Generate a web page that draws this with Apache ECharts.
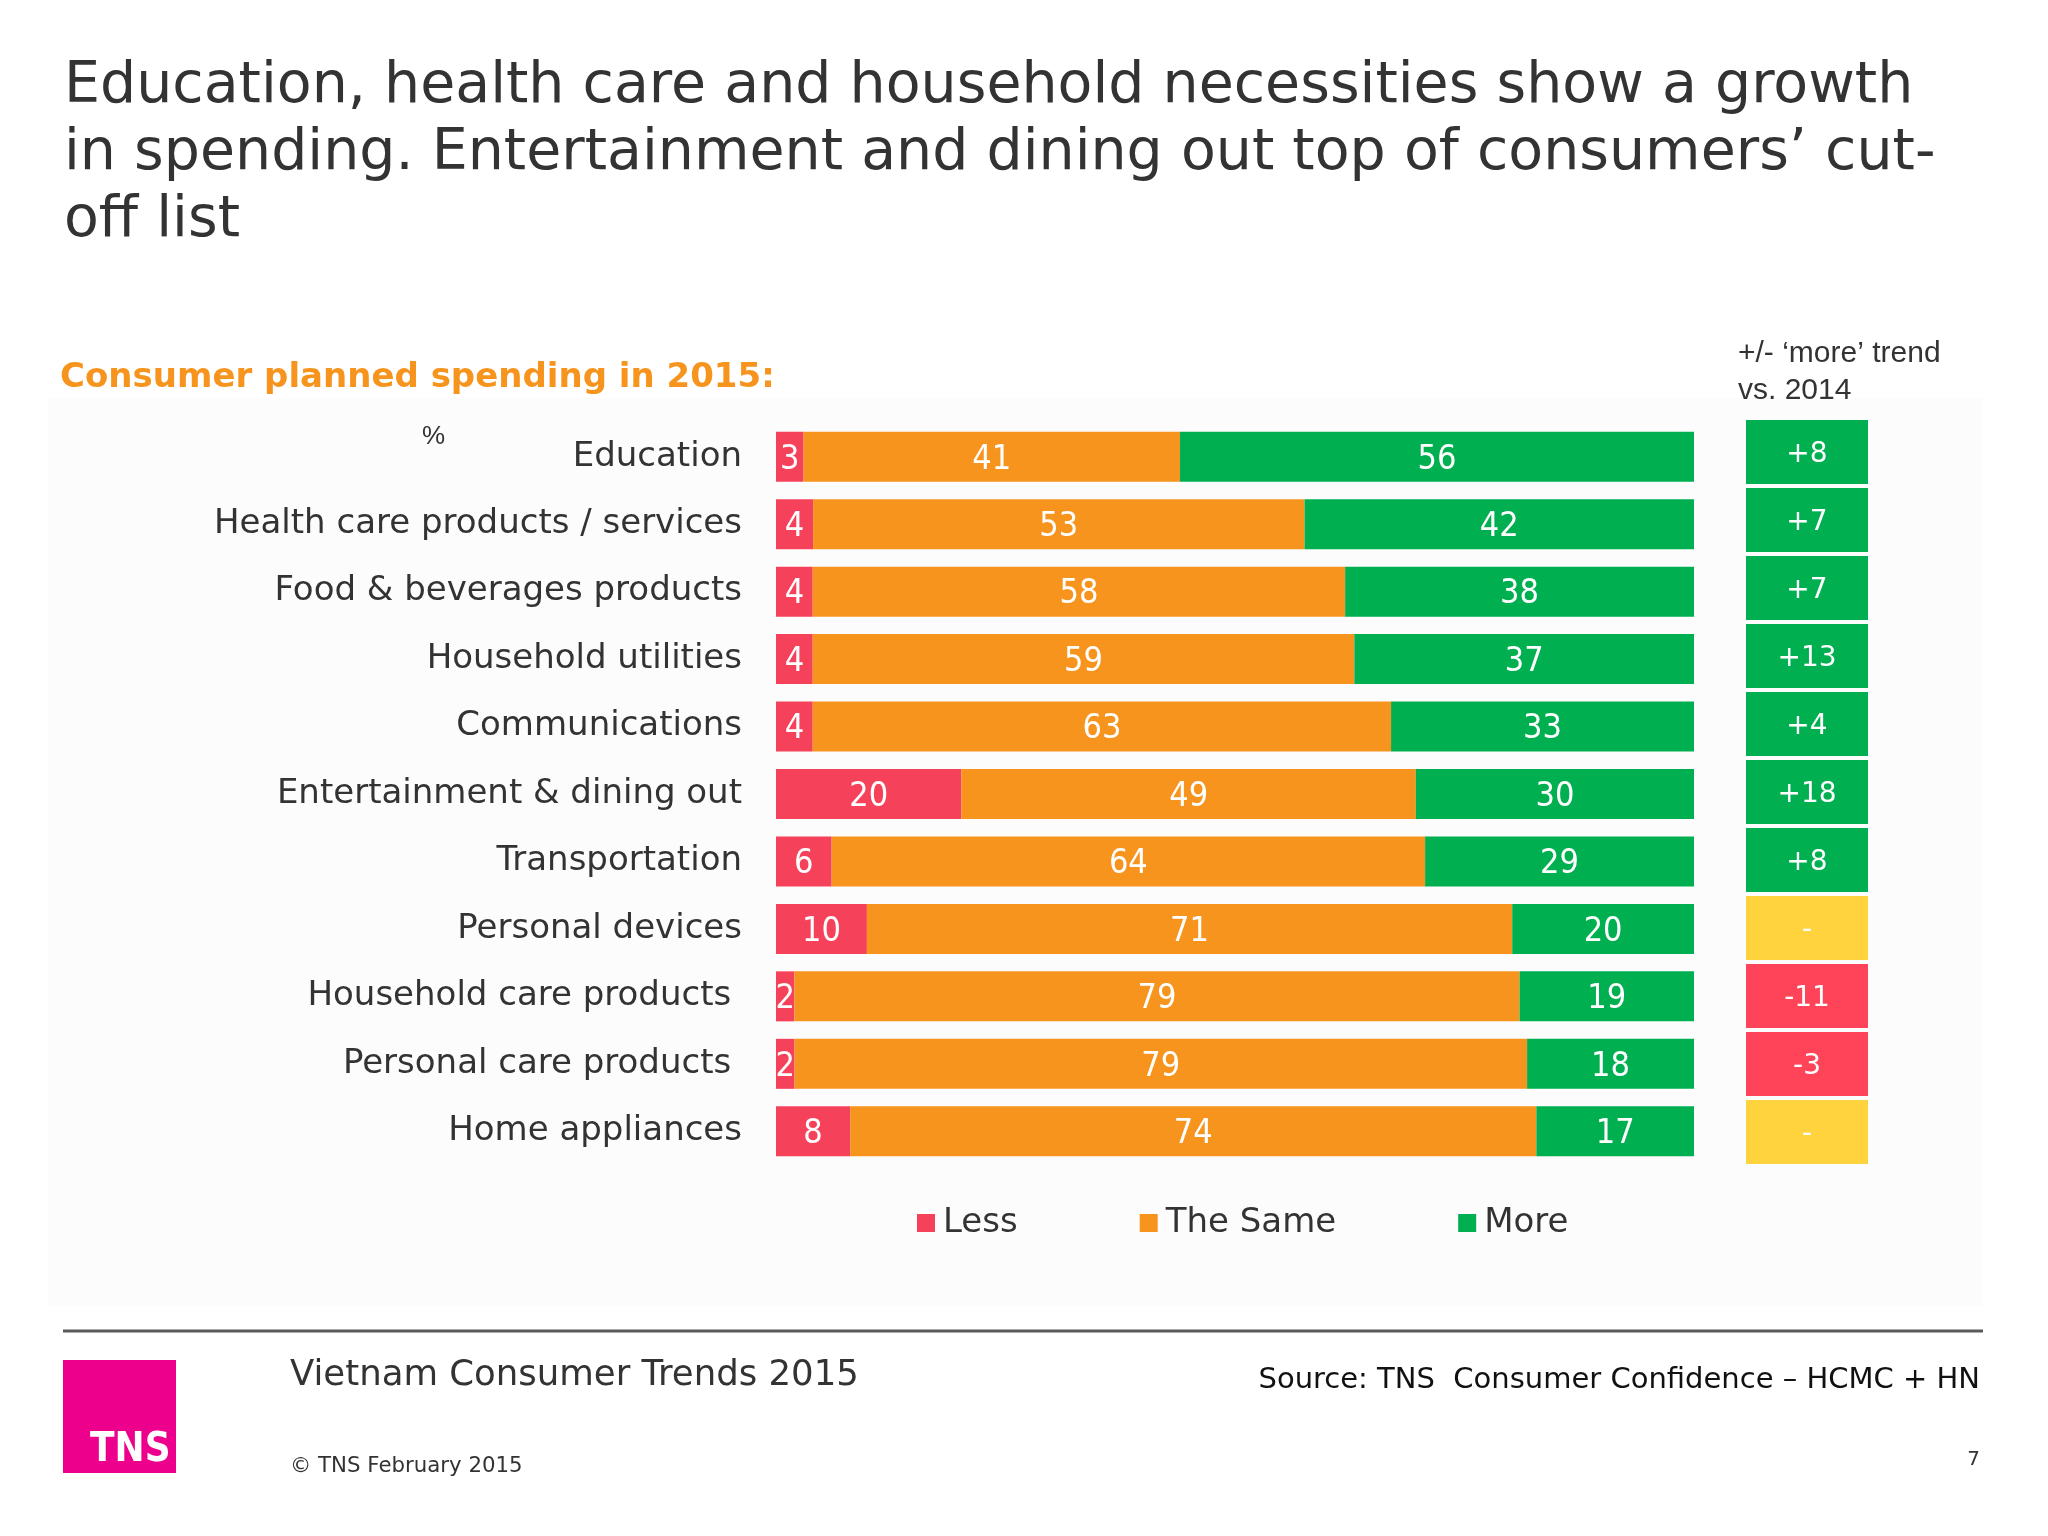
<!DOCTYPE html>
<html>
<head>
<meta charset="utf-8">
<script src="https://cdn.jsdelivr.net/npm/echarts@6/dist/echarts.min.js"></script>
<style>
html,body{margin:0;padding:0;background:#ffffff;}
#chart{width:2048px;height:1536px;}
</style>
</head>
<body>
<div id="chart"></div>
<script>
const categories = [
  'Education',
  'Health care products / services',
  'Food & beverages products',
  'Household utilities',
  'Communications',
  'Entertainment & dining out',
  'Transportation',
  'Personal devices',
  'Household care products ',
  'Personal care products ',
  'Home appliances'
];
const lessVals = [3, 4, 4, 4, 4, 20, 6, 10, 2, 2, 8];
const sameVals = [41, 53, 58, 59, 63, 49, 64, 71, 79, 79, 74];
const moreVals = [56, 42, 38, 37, 33, 30, 29, 20, 19, 18, 17];
const trendVals = [8, 7, 7, 13, 4, 18, 8, null, -11, -3, null];
const seriesNames = ['Less', 'The Same', 'More'];

const FONT = "'DejaVu Sans', sans-serif";
const FONT_C = "'DejaVu Sans Condensed', 'DejaVu Sans', sans-serif";
const colors = { less: '#F6415A', same: '#F7941D', more: '#00AF50', yellow: '#FFD33D', trendRed: '#FF4358' };

const totals = categories.map((c, i) => lessVals[i] + sameVals[i] + moreVals[i]);
const norm = arr => arr.map((v, i) => v / totals[i] * 100);
const raw = [lessVals, sameVals, moreVals];

function mkSeries(idx, color) {
  return {
    name: seriesNames[idx],
    type: 'bar',
    stack: 'total',
    xAxisIndex: 0, yAxisIndex: 0,
    barWidth: 50,
    data: norm(raw[idx]),
    itemStyle: { color: color },
    label: {
      show: true,
      position: 'inside',
      color: '#ffffff',
      fontFamily: FONT_C,
      fontSize: 34,
      offset: [0, 3],
      formatter: p => String(raw[idx][p.dataIndex])
    },
    emphasis: { disabled: true }
  };
}

const chart = echarts.init(document.getElementById('chart'), null, { renderer: 'canvas' });
chart.setOption({
  backgroundColor: '#ffffff',
  animation: false,
  title: [
    {
      text: 'Education, health care and household necessities show a growth\nin spending. Entertainment and dining out top of consumers\u2019 cut-\noff list',
      left: 64, top: 54, padding: 0,
      textStyle: { fontFamily: FONT, fontSize: 57, fontWeight: 'normal', color: '#333333', lineHeight: 67 }
    },
    {
      text: 'Consumer planned spending in 2015:',
      left: 60, top: 361, padding: 0,
      textStyle: { fontFamily: FONT, fontSize: 34, fontWeight: 'bold', color: '#F7941D' }
    },
    {
      text: '+/- \u2018more\u2019 trend\nvs. 2014',
      left: 1738, top: 335, padding: 0,
      textStyle: { fontFamily: "'Liberation Sans', Arial, sans-serif", fontSize: 30, fontWeight: 'normal', color: '#333333', lineHeight: 37 }
    },
    {
      text: '%',
      left: 422, top: 424, padding: 0,
      textStyle: { fontFamily: "'Liberation Sans', Arial, sans-serif", fontSize: 26, fontWeight: 'normal', color: '#333333' }
    }
  ],
  legend: {
    data: seriesNames,
    left: 912, top: 1201,
    icon: 'rect',
    itemWidth: 18, itemHeight: 18,
    itemGap: 122,
    textStyle: { fontFamily: FONT, fontSize: 34, color: '#333333', padding: [0, 0, 0, 3] },
    selectedMode: false
  },
  grid: [
    { left: 776, right: 354, top: 423, height: 742 },
    { left: 1746, width: 122, top: 418, height: 748 }
  ],
  xAxis: [
    { type: 'value', gridIndex: 0, min: 0, max: 100, show: false },
    { type: 'value', gridIndex: 1, min: 0, max: 1, show: false }
  ],
  yAxis: [
    {
      type: 'category', gridIndex: 0, data: categories, inverse: true,
      axisLine: { show: false }, axisTick: { show: false },
      axisLabel: { margin: 34, fontFamily: FONT, fontSize: 34, color: '#333333', padding: [7, 0, 0, 0] }
    },
    {
      type: 'category', gridIndex: 1, data: categories, inverse: true, show: false
    }
  ],
  series: [
    mkSeries(0, colors.less),
    mkSeries(1, colors.same),
    mkSeries(2, colors.more),
    {
      name: 'trend',
      type: 'bar',
      xAxisIndex: 1, yAxisIndex: 1,
      barWidth: 64,
      data: trendVals.map(v => ({
        value: 1,
        itemStyle: { color: v == null ? colors.yellow : (v > 0 ? colors.more : colors.trendRed) }
      })),
      label: {
        show: true, position: 'inside', color: '#ffffff',
        fontFamily: FONT, fontSize: 28, offset: [0, 3],
        formatter: p => { const v = trendVals[p.dataIndex]; return v == null ? '-' : (v > 0 ? '+' + v : String(v)); }
      },
      emphasis: { disabled: true }
    }
  ],
  graphic: [
    { type: 'rect', z: -10, shape: { x: 48, y: 398, width: 1934, height: 908 }, style: { fill: '#fcfcfc' } },
    { type: 'line', shape: { x1: 63, y1: 1331, x2: 1983, y2: 1331 }, style: { stroke: '#5a5a5a', lineWidth: 3 } },
    { type: 'rect', shape: { x: 63, y: 1360, width: 113, height: 113 }, style: { fill: '#EC008C' } },
    { type: 'text', x: 90, y: 1451, style: { text: 'TNS', fill: '#ffffff', font: "bold 40px 'DejaVu Sans Condensed', 'DejaVu Sans', sans-serif", verticalAlign: 'middle' } },
    { type: 'text', x: 290, y: 1376, style: { text: 'Vietnam Consumer Trends 2015', fill: '#333333', font: "35.5px 'DejaVu Sans', sans-serif", verticalAlign: 'middle' } },
    { type: 'text', x: 1980, y: 1380, style: { text: 'Source: TNS  Consumer Confidence \u2013 HCMC + HN', fill: '#111111', font: "29px 'DejaVu Sans', sans-serif", align: 'right', verticalAlign: 'middle' } },
    { type: 'text', x: 290, y: 1466, style: { text: '\u00A9 TNS February 2015', fill: '#333333', font: "21.3px 'DejaVu Sans', sans-serif", verticalAlign: 'middle' } },
    { type: 'text', x: 1980, y: 1460, style: { text: '7', fill: '#333333', font: "20px 'DejaVu Sans', sans-serif", align: 'right', verticalAlign: 'middle' } }
  ]
});
</script>
</body>
</html>
